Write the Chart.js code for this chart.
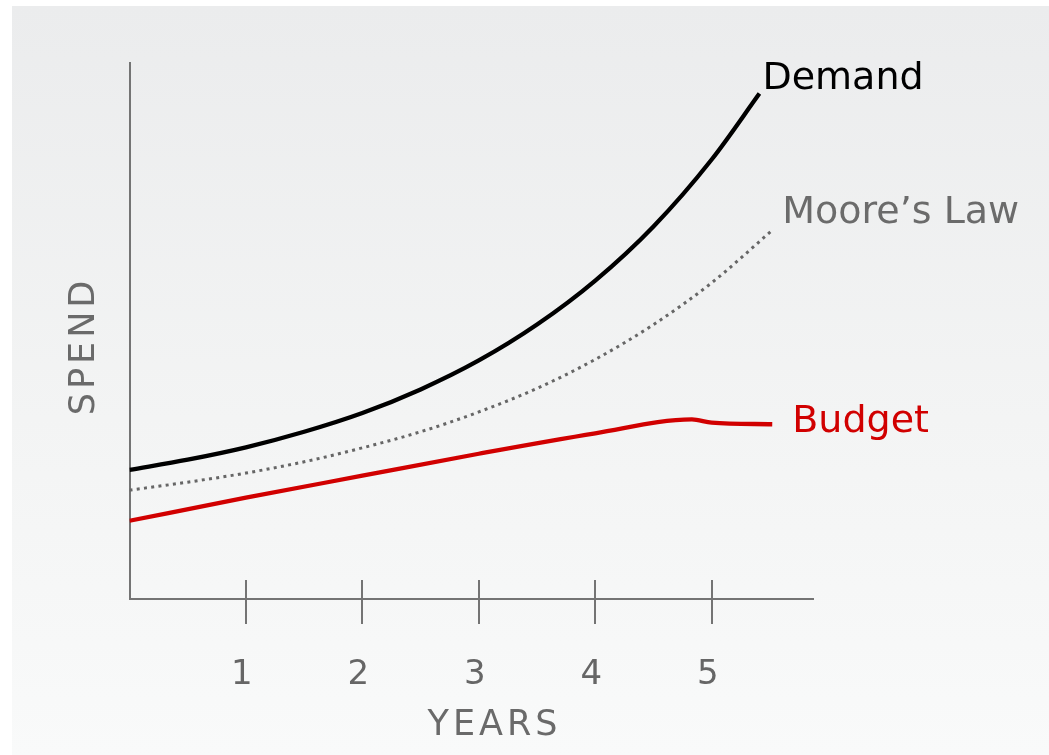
<!DOCTYPE html>
<html>
<head>
<meta charset="utf-8">
<script src="https://cdn.jsdelivr.net/npm/chart.js@4/dist/chart.umd.min.js"></script>
<style>
  html, body { margin: 0; padding: 0; background: #ffffff; width: 1049px; height: 755px; overflow: hidden; }
  #bg { position: absolute; left: 12px; top: 6px; right: 0; bottom: 0;
        background: linear-gradient(to bottom, #ebeced 0%, #f3f4f4 55%, #f9fafa 100%); }
  #wrap { position: absolute; left: 0; top: 0; width: 1049px; height: 755px; }
</style>
</head>
<body>
<div id="bg"></div>
<div id="wrap"><canvas id="c" width="1049" height="755"></canvas></div>
<script>
// ---- data (x in years, y in arbitrary spend units 0-100) ----
const xTickValues = [1, 2, 3, 4, 5];
const xTickLabels = ['1', '2', '3', '4', '5'];
const seriesNames = ['Demand', "Moore’s Law", 'Budget'];

const demandX = [0, 0.5, 1, 1.5, 2, 2.5, 3, 3.5, 4, 4.5, 5, 5.41];
const demandY = [24.1, 26.0, 28.3, 31.2, 34.7, 39.1, 44.5, 51.2, 59.4, 69.5, 82.0, 94.3];

const mooreX = [0, 0.5, 1, 1.5, 2, 2.5, 3, 3.5, 4, 4.5, 5, 5.52];
const mooreY = [20.3, 21.8, 23.5, 25.6, 28.2, 31.2, 34.9, 39.3, 44.7, 51.2, 59.0, 68.8];

const budgetX = [0, 1, 2, 3, 4, 4.83, 5.0, 5.52];
const budgetY = [14.6, 18.9, 23.0, 27.1, 30.9, 33.5, 32.9, 32.6];

const xMax = 5.87;
const yMax = 100;

// ---- styling ----
const FONT = '"DejaVu Sans", "Liberation Sans", sans-serif';
const AXIS_COLOR = '#747474';
const labelStyles = [
  { color: '#000000', dx: 3, dy: -5 },
  { color: '#6b6b6b', dx: 10, dy: -7 },
  { color: '#d10000', dx: 20, dy: 8 }
];

function pts(xs, ys) { return xs.map((x, i) => ({ x: x, y: ys[i] })); }

const crossTicks = {
  id: 'crossTicks',
  afterDraw(chart) {
    const ctx = chart.ctx, xs = chart.scales.x, area = chart.chartArea;
    ctx.save();
    ctx.strokeStyle = AXIS_COLOR;
    ctx.lineWidth = 2;
    xTickValues.forEach(v => {
      const px = Math.round(xs.getPixelForValue(v));
      ctx.beginPath();
      ctx.moveTo(px, area.bottom - 19);
      ctx.lineTo(px, area.bottom + 25);
      ctx.stroke();
    });
    ctx.restore();
  }
};

const axisTitles = {
  id: 'axisTitles',
  afterDraw(chart) {
    const ctx = chart.ctx, area = chart.chartArea;
    ctx.save();
    ctx.fillStyle = '#6a6a6a';
    ctx.font = '35px ' + FONT;
    ctx.letterSpacing = '4px';
    ctx.textAlign = 'center';
    ctx.textBaseline = 'middle';
    ctx.fillText('YEARS', area.left + 363 + 2, 726);
    ctx.translate(85, 348);
    ctx.rotate(-Math.PI / 2);
    ctx.fillText('SPEND', 2, 0);
    ctx.restore();
  }
};

const seriesLabels = {
  id: 'seriesLabels',
  afterDraw(chart) {
    const ctx = chart.ctx;
    ctx.save();
    ctx.letterSpacing = '0px';
    ctx.font = '38px ' + FONT;
    ctx.textAlign = 'left';
    ctx.textBaseline = 'alphabetic';
    chart.data.datasets.forEach((ds, i) => {
      const meta = chart.getDatasetMeta(i);
      const last = meta.data[meta.data.length - 1];
      const st = labelStyles[i];
      ctx.fillStyle = st.color;
      ctx.fillText(ds.label, last.x + st.dx, last.y + st.dy);
    });
    ctx.restore();
  }
};

new Chart(document.getElementById('c'), {
  type: 'line',
  data: {
    datasets: [
      { label: seriesNames[0], data: pts(demandX, demandY), borderColor: '#000000', borderWidth: 4.3,
        pointRadius: 0, cubicInterpolationMode: 'monotone', fill: false },
      { label: seriesNames[1], data: pts(mooreX, mooreY), borderColor: '#666666', borderWidth: 3,
        borderDash: [3, 4.3], pointRadius: 0, cubicInterpolationMode: 'monotone', fill: false },
      { label: seriesNames[2], data: pts(budgetX, budgetY), borderColor: '#d10000', borderWidth: 4.3,
        pointRadius: 0, cubicInterpolationMode: 'monotone', fill: false }
    ]
  },
  options: {
    responsive: false,
    animation: false,
    events: [],
    layout: { padding: { top: 63, right: 236, left: 0, bottom: 0 } },
    plugins: { legend: { display: false }, tooltip: { enabled: false } },
    scales: {
      x: {
        type: 'linear', min: 0, max: xMax,
        grid: { display: false, drawTicks: false },
        border: { display: true, color: AXIS_COLOR, width: 2 },
        afterBuildTicks: (s) => { s.ticks = xTickValues.map(v => ({ value: v })); },
        afterFit: (s) => { s.height = 156; },
        ticks: {
          color: '#666666', font: { family: FONT, size: 34 }, padding: 56, labelOffset: -4,
          maxRotation: 0, autoSkip: false,
          callback: (v) => xTickLabels[xTickValues.indexOf(v)] ?? ''
        }
      },
      y: {
        type: 'linear', min: 0, max: yMax,
        grid: { display: false, drawTicks: false },
        border: { display: true, color: AXIS_COLOR, width: 2 },
        ticks: { display: false },
        afterFit: (s) => { s.width = 129.5; }
      }
    }
  },
  plugins: [crossTicks, axisTitles, seriesLabels]
});
</script>
</body>
</html>
